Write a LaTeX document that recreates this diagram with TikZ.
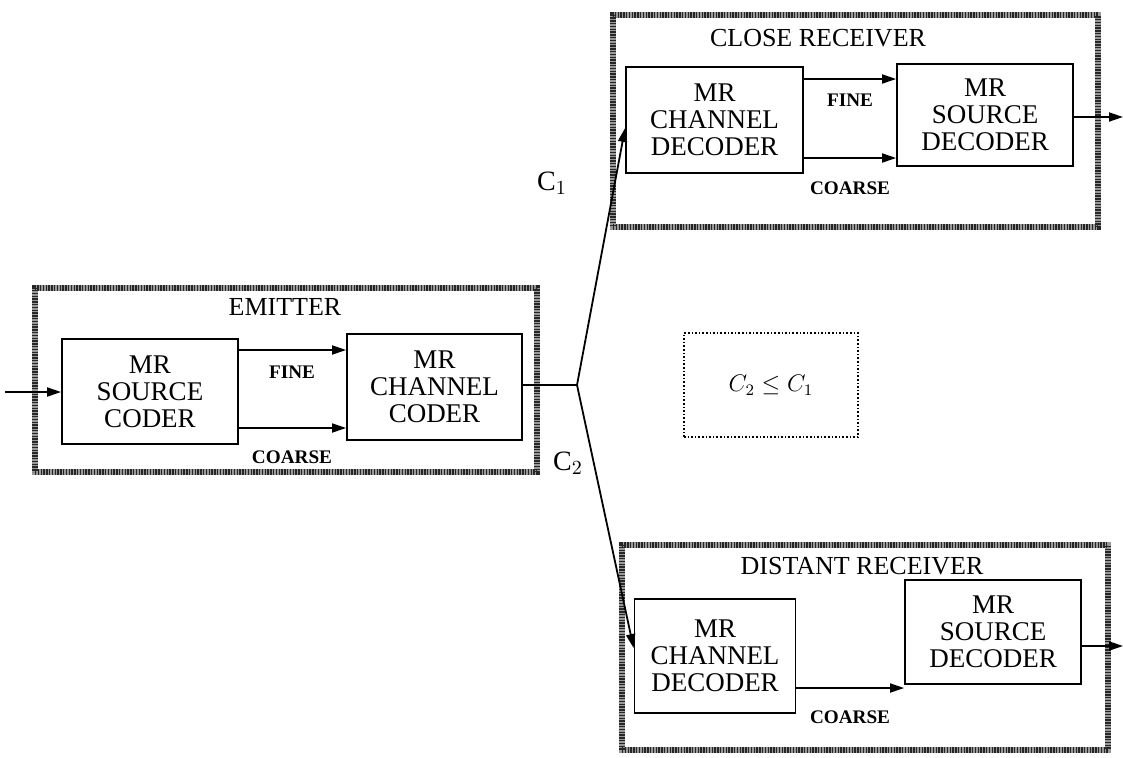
\documentclass[tikz,border=0pt]{standalone}
\usepackage{fontspec}
\setmainfont{Liberation Serif}
\usetikzlibrary{arrows.meta}

\tikzset{
  block/.style={draw,line width=0.9pt,align=center,inner sep=0pt,
    font=\fontsize{13.5}{13.5}\selectfont},
  frame/.style={draw=black!85,line width=2.8pt,dash pattern=on 0.7pt off 0.7pt,
    preaction={draw=black!40,line width=2.8pt,solid}},
  link/.style={line width=0.9pt,-{Triangle[length=7pt,width=4.5pt]}},
  tag/.style={inner sep=0pt,font=\fontsize{9.6}{10}\selectfont\bfseries},
  title/.style={inner sep=0pt,font=\fontsize{13}{14}\selectfont}
}

\begin{document}
\begin{tikzpicture}[x=0.5pt,y=-0.5pt]
  \useasboundingbox (0,0) rectangle (1123,757);
  % frames
  \node[frame,minimum width=251pt,minimum height=92pt] (emitfr) at (286,380) {};
  \node[frame,minimum width=242.5pt,minimum height=106pt] (closefr) at (855.5,121) {};
  \node[frame,minimum width=243pt,minimum height=102.5pt] (distfr) at (865,647.5) {};
  \node[title] at (285,307) {EMITTER};
  \node[title] at (818,38) {CLOSE RECEIVER};
  \node[title] at (862,566) {DISTANT RECEIVER};
  % blocks
  \node[block,minimum width=88pt,minimum height=52.5pt] (srccod) at (150,391.5) {MR\\SOURCE\\CODER};
  \node[block,minimum width=87.5pt,minimum height=53pt] (chcod) at (434.5,387) {MR\\CHANNEL\\CODER};
  \node[block,minimum width=88.5pt,minimum height=53pt] (chdecA) at (714.5,120) {MR\\CHANNEL\\DECODER};
  \node[block,minimum width=88pt,minimum height=51pt] (srcdecA) at (985,115) {MR\\SOURCE\\DECODER};
  \node[block,minimum width=80.5pt,minimum height=57pt] (chdecB) at (715,656) {MR\\CHANNEL\\DECODER};
  \node[block,minimum width=88pt,minimum height=52pt] (srcdecB) at (993,632) {MR\\SOURCE\\DECODER};
  \node[draw,densely dotted,line width=0.8pt,minimum width=87pt,minimum height=52pt,
    font=\large] (cond) at (771,385) {$C_2\leq C_1$};
  % helper points
  \coordinate (inp) at (5,392);
  \coordinate (fineE) at (0,350);
  \coordinate (coarseE) at (0,428);
  \coordinate (fineA) at (0,79);
  \coordinate (coarseA) at (0,158);
  \coordinate (coarseB) at (0,688);
  \coordinate (split) at (577,385);
  \coordinate (hitA) at (0,128);
  \coordinate (hitB) at (0,648);
  \coordinate (outA) at (1123,117);
  \coordinate (outB) at (1123,646);
  % connectors
  \draw[link] (inp) -- (srccod.west |- inp);
  \draw[link] (srccod.east |- fineE) -- (chcod.west |- fineE);
  \draw[link] (srccod.east |- coarseE) -- (chcod.west |- coarseE);
  \node[tag] at (292,372) {FINE};
  \node[tag] at (292,457) {COARSE};
  \draw[line width=0.9pt] (chcod.east |- split) -- (split);
  \draw[link] (split) -- (chdecA.west |- hitA);
  \draw[link] (split) -- (chdecB.west |- hitB);
  \node[title,font=\fontsize{14}{15}\selectfont] (capA) at (552,183) {C$_1$};
  \node[title,font=\fontsize{14}{15}\selectfont] (capB) at (568,463) {C$_2$};
  \draw[link] (chdecA.east |- fineA) -- (srcdecA.west |- fineA);
  \draw[link] (chdecA.east |- coarseA) -- (srcdecA.west |- coarseA);
  \node[tag] at (850,100) {FINE};
  \node[tag] at (850,188) {COARSE};
  \draw[link] (srcdecA.east |- outA) -- (outA);
  \draw[link] (chdecB.east |- coarseB) -- (srcdecB.west |- coarseB);
  \node[tag] at (850,717) {COARSE};
  \draw[link] (srcdecB.east |- outB) -- (outB);
\end{tikzpicture}
\end{document}
